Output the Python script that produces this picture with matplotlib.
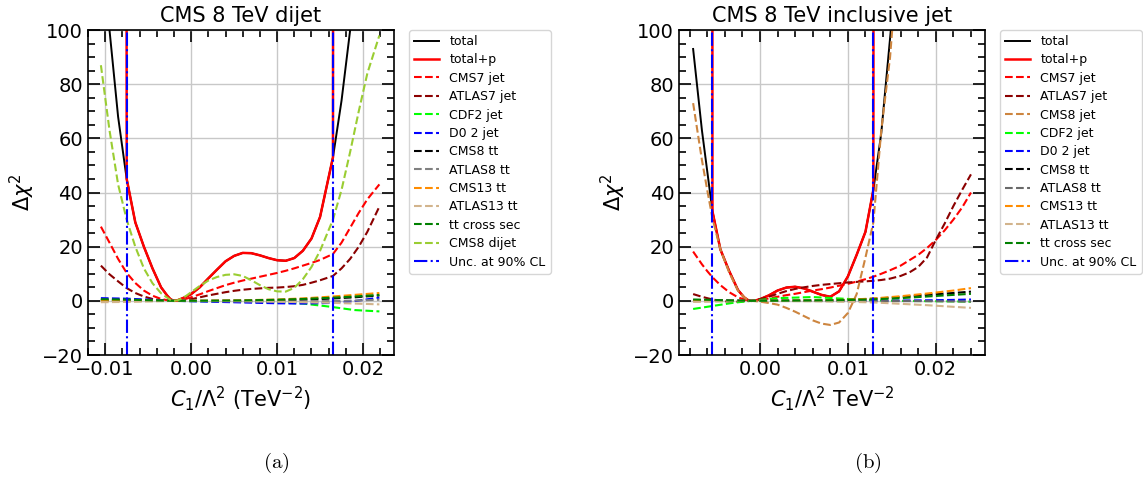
import matplotlib
matplotlib.use('Agg')
import matplotlib.pyplot as plt
from matplotlib.ticker import MultipleLocator

# ---------------- (a) CMS 8 TeV dijet ----------------
x_dijet = [-0.0105, -0.0095, -0.0085, -0.0075, -0.0065, -0.0055, -0.0045, -0.0035, -0.0028,
           -0.0024, -0.002, -0.0016, -0.0012, -0.0006, 0.0, 0.001, 0.002, 0.003, 0.004, 0.005,
           0.006, 0.007, 0.008, 0.009, 0.010, 0.011, 0.012, 0.013, 0.014, 0.015, 0.0165, 0.0175,
           0.0185, 0.0195, 0.0205, 0.0219]
total_dijet = [145, 100, 68, 45, 29, 20, 12, 5, 2.0, 0.6, 0, 0.2, 0.7, 1.5, 2.5, 5, 8.3, 11.5,
               14.6, 16.6, 17.7, 17.6, 16.8, 15.8, 15.0, 14.8, 15.8, 18.5, 23, 31, 53, 74, 100,
               128, 160, 210]
totalp_dijet = [5000, 5000, 5000, 45, 29, 20, 12, 5, 2.0, 0.6, 0, 0.2, 0.7, 1.5, 2.5, 5, 8.3,
                11.5, 14.6, 16.6, 17.7, 17.6, 16.8, 15.8, 15.0, 14.8, 15.8, 18.5, 23, 31, 53,
                5000, 5000, 5000, 5000, 5000]
cms7_dijet = [27.4, 21.5, 15.5, 10.3, 6.6, 3.8, 1.9, 0.7, 0.25, 0.07, 0, 0.08, 0.3, 0.75, 1.3,
              2.4, 3.6, 4.7, 5.8, 6.7, 7.5, 8.2, 8.9, 9.6, 10.3, 11.1, 12.0, 13.0, 14.0, 15.1,
              17.3, 21.5, 27.0, 32.5, 37.5, 43.0]
atlas7_dijet = [13, 9.8, 7.2, 4.7, 2.9, 1.6, 0.7, 0.2, 0.05, 0.01, 0, 0.03, 0.12, 0.3, 0.6, 1.3,
                2.0, 2.6, 3.2, 3.7, 4.1, 4.4, 4.6, 4.8, 4.9, 5.1, 5.4, 5.9, 6.7, 7.6, 9.2, 12.0,
                15.5, 20.0, 25.5, 34.8]
cms8dijet_dijet = [87, 63, 43, 30, 20, 12, 6.5, 2.8, 1.2, 0.35, 0, 0.2, 0.7, 1.8, 3.2, 5.5, 7.5,
                   8.8, 9.6, 9.8, 9.2, 7.6, 5.8, 4.3, 3.5, 3.4, 4.8, 8.0, 12.5, 18.5, 30, 41, 55,
                   70, 84, 98]

x_dijet_small = [-0.0105, -0.0075, -0.0045, -0.002, 0.002, 0.006, 0.010, 0.013, 0.016, 0.019, 0.0219]
cdf2_dijet = [0.4, 0.3, 0.15, 0, -0.15, -0.35, -0.6, -1.0, -2.1, -3.4, -3.9]
d0_dijet = [1.0, 0.8, 0.4, 0, -0.3, -0.6, -0.9, -1.0, -0.8, -0.1, 1.2]
cms8tt_dijet = [0.3, 0.2, 0.1, 0, 0.0, 0.05, 0.2, 0.4, 0.8, 1.3, 2.0]
atlas8tt_dijet = [0.2, 0.1, 0.05, 0, -0.05, -0.1, -0.2, -0.2, -0.1, 0.1, 0.4]
cms13tt_dijet = [0.0, 0.0, 0.0, 0, 0.05, 0.2, 0.5, 0.9, 1.5, 2.2, 2.9]
atlas13tt_dijet = [-0.5, -0.4, -0.2, 0, -0.05, -0.15, -0.3, -0.5, -0.7, -1.0, -1.3]
ttxsec_dijet = [0.6, 0.45, 0.2, 0, 0.05, 0.15, 0.4, 0.7, 1.1, 1.6, 2.2]
cl_dijet = [-0.0075, 0.0165]

# ---------------- (b) CMS 8 TeV inclusive jet ----------------
x_incl = [-0.0076, -0.0066, -0.006, -0.0054, -0.0045, -0.0035, -0.0025, -0.0018, -0.0014,
          -0.001, -0.0005, 0.0, 0.001, 0.002, 0.003, 0.004, 0.005, 0.006, 0.007, 0.008, 0.009,
          0.010, 0.011, 0.012, 0.0129, 0.0138, 0.0148, 0.016, 0.017, 0.018, 0.019, 0.020, 0.021,
          0.022, 0.023, 0.024]
total_incl = [93, 63, 48, 33, 19, 11, 4, 1.3, 0.35, 0, 0.15, 0.6, 2.0, 3.8, 4.9, 5.2, 4.6, 3.4,
              2.2, 1.5, 3.5, 9, 17, 25.5, 41, 62, 97, 140, 180, 230, 280, 330, 380, 430, 480, 540]
totalp_incl = [5000, 5000, 5000, 33, 19, 11, 4, 1.3, 0.35, 0, 0.15, 0.6, 2.0, 3.8, 4.9, 5.2, 4.6,
               3.4, 2.2, 1.5, 3.5, 9, 17, 25.5, 41, 5000, 5000, 5000, 5000, 5000, 5000, 5000,
               5000, 5000, 5000, 5000]
cms7_incl = [18.2, 13.5, 11, 8.7, 5.8, 3.2, 1.3, 0.5, 0.15, 0, 0.1, 0.3, 0.9, 1.5, 2.1, 2.6, 3.2,
             3.8, 4.3, 4.9, 5.6, 6.3, 7.1, 8.0, 8.9, 10.0, 11.3, 13.0, 15.0, 17.0, 19.5, 22.5,
             26.0, 30.0, 34.5, 40.0]
atlas7_incl = [2.5, 1.5, 1.0, 0.5, 0.0, -0.3, -0.3, -0.1, -0.05, 0, 0.25, 0.6, 1.5, 2.6, 3.6,
               4.4, 5.0, 5.5, 5.9, 6.2, 6.5, 6.8, 7.0, 7.2, 7.4, 7.7, 8.2, 9.2, 10.5, 12.5, 16.0,
               22.5, 28.5, 35.0, 41.0, 46.7]
cms8jet_incl = [73, 52, 41, 30.5, 19, 10.5, 3.8, 1.3, 0.35, 0, -0.1, -0.3, -0.8, -1.4, -2.6,
                -4.0, -5.6, -7.2, -8.4, -8.9, -8.0, -4.5, 2.5, 16, 29, 63, 90, 140, 180, 230,
                280, 330, 380, 430, 480, 540]

x_incl_small = [-0.0076, -0.0054, -0.003, -0.001, 0.002, 0.006, 0.010, 0.013, 0.016, 0.019, 0.022, 0.024]
cdf2_incl = [-3.0, -1.9, -0.7, 0, 1.0, 1.4, 0.7, 0.2, 0.0, -0.1, -0.2, -0.3]
d0_incl = [0.3, 0.2, 0.05, 0, 0.0, 0.0, 0.0, 0.05, 0.1, 0.2, 0.35, 0.5]
cms8tt_incl = [0.3, 0.2, 0.05, 0, 0.05, 0.15, 0.35, 0.8, 1.4, 2.2, 2.9, 3.4]
atlas8tt_incl = [0.3, 0.2, 0.05, 0, -0.05, -0.05, -0.1, -0.1, -0.1, -0.1, -0.2, -0.3]
cms13tt_incl = [0.0, 0.0, 0.0, 0, 0.05, 0.15, 0.4, 0.9, 1.7, 2.7, 3.8, 4.7]
atlas13tt_incl = [-0.4, -0.3, -0.1, 0, -0.05, -0.15, -0.35, -0.6, -1.1, -1.6, -2.2, -2.6]
ttxsec_incl = [0.5, 0.35, 0.1, 0, 0.05, 0.15, 0.3, 0.6, 1.0, 1.6, 2.2, 2.6]
cl_incl = [-0.0054, 0.0129]


def style_axes(ax, title, xlabel, xlim):
    ax.set_xlim(*xlim)
    ax.set_ylim(-20, 100)
    ax.set_title(title, fontsize=15)
    ax.set_xlabel(xlabel, fontsize=15)
    ax.set_ylabel(r'$\Delta\chi^2$', fontsize=15)
    ax.xaxis.set_major_locator(MultipleLocator(0.01))
    ax.xaxis.set_minor_locator(MultipleLocator(0.002))
    ax.yaxis.set_major_locator(MultipleLocator(20))
    ax.yaxis.set_minor_locator(MultipleLocator(5))
    ax.tick_params(which='both', direction='in', top=True, right=True, labelsize=14, width=1.2)
    ax.tick_params(which='major', length=8.5)
    ax.tick_params(which='minor', length=5)
    for s in ax.spines.values():
        s.set_linewidth(1.2)
    ax.grid(True, which='major', color='#c8c8c8', linewidth=1.0)
    ax.set_axisbelow(True)
    ax.legend(loc='upper left', bbox_to_anchor=(1.05, 1.0), borderaxespad=0,
              fontsize=9, labelspacing=0.43)


fig = plt.figure(figsize=(11.43, 4.78), dpi=100)
ax1 = fig.add_axes([0.077, 0.2573, 0.2677, 0.6799])
ax2 = fig.add_axes([0.5941, 0.2573, 0.2677, 0.6799])

# panel (a)
ax1.plot(x_dijet, total_dijet, color='black', lw=1.4, label='total')
ax1.plot(x_dijet, totalp_dijet, color='red', lw=1.8, label='total+p')
ax1.plot(x_dijet, cms7_dijet, '--', color='red', lw=1.5, label='CMS7 jet')
ax1.plot(x_dijet, atlas7_dijet, '--', color='darkred', lw=1.5, label='ATLAS7 jet')
ax1.plot(x_dijet_small, cdf2_dijet, '--', color='lime', lw=1.5, label='CDF2 jet')
ax1.plot(x_dijet_small, d0_dijet, '--', color='blue', lw=1.5, label='D0 2 jet')
ax1.plot(x_dijet_small, cms8tt_dijet, '--', color='black', lw=1.5, label='CMS8 tt')
ax1.plot(x_dijet_small, atlas8tt_dijet, '--', color='gray', lw=1.5, label='ATLAS8 tt')
ax1.plot(x_dijet_small, cms13tt_dijet, '--', color='darkorange', lw=1.5, label='CMS13 tt')
ax1.plot(x_dijet_small, atlas13tt_dijet, '--', color='tan', lw=1.5, label='ATLAS13 tt')
ax1.plot(x_dijet_small, ttxsec_dijet, '--', color='green', lw=1.5, label='tt cross sec')
ax1.plot(x_dijet, cms8dijet_dijet, '--', color='yellowgreen', lw=1.5, label='CMS8 dijet')
for i, c in enumerate(cl_dijet):
    ax1.axvline(c, color='blue', ls='-.', lw=1.5, label='Unc. at 90% CL' if i == 0 else None)
style_axes(ax1, 'CMS 8 TeV dijet', r'$C_1/\Lambda^2$ (TeV$^{-2}$)', (-0.0120, 0.0236))

# panel (b)
ax2.plot(x_incl, total_incl, color='black', lw=1.4, label='total')
ax2.plot(x_incl, totalp_incl, color='red', lw=1.8, label='total+p')
ax2.plot(x_incl, cms7_incl, '--', color='red', lw=1.5, label='CMS7 jet')
ax2.plot(x_incl, atlas7_incl, '--', color='darkred', lw=1.5, label='ATLAS7 jet')
ax2.plot(x_incl, cms8jet_incl, '--', color='peru', lw=1.5, label='CMS8 jet')
ax2.plot(x_incl_small, cdf2_incl, '--', color='lime', lw=1.5, label='CDF2 jet')
ax2.plot(x_incl_small, d0_incl, '--', color='blue', lw=1.5, label='D0 2 jet')
ax2.plot(x_incl_small, cms8tt_incl, '--', color='black', lw=1.5, label='CMS8 tt')
ax2.plot(x_incl_small, atlas8tt_incl, '--', color='dimgray', lw=1.5, label='ATLAS8 tt')
ax2.plot(x_incl_small, cms13tt_incl, '--', color='darkorange', lw=1.5, label='CMS13 tt')
ax2.plot(x_incl_small, atlas13tt_incl, '--', color='tan', lw=1.5, label='ATLAS13 tt')
ax2.plot(x_incl_small, ttxsec_incl, '--', color='green', lw=1.5, label='tt cross sec')
for i, c in enumerate(cl_incl):
    ax2.axvline(c, color='blue', ls='-.', lw=1.5, label='Unc. at 90% CL' if i == 0 else None)
style_axes(ax2, 'CMS 8 TeV inclusive jet', r'$C_1/\Lambda^2$ TeV$^{-2}$', (-0.0092, 0.0256))

# subfigure captions
fig.text(0.2415, 0.031, r'$\mathrm{(a)}$', fontsize=15, ha='center', va='center', math_fontfamily='cm')
fig.text(0.7594, 0.031, r'$\mathrm{(b)}$', fontsize=15, ha='center', va='center', math_fontfamily='cm')

fig.savefig('out.png', dpi=100)
